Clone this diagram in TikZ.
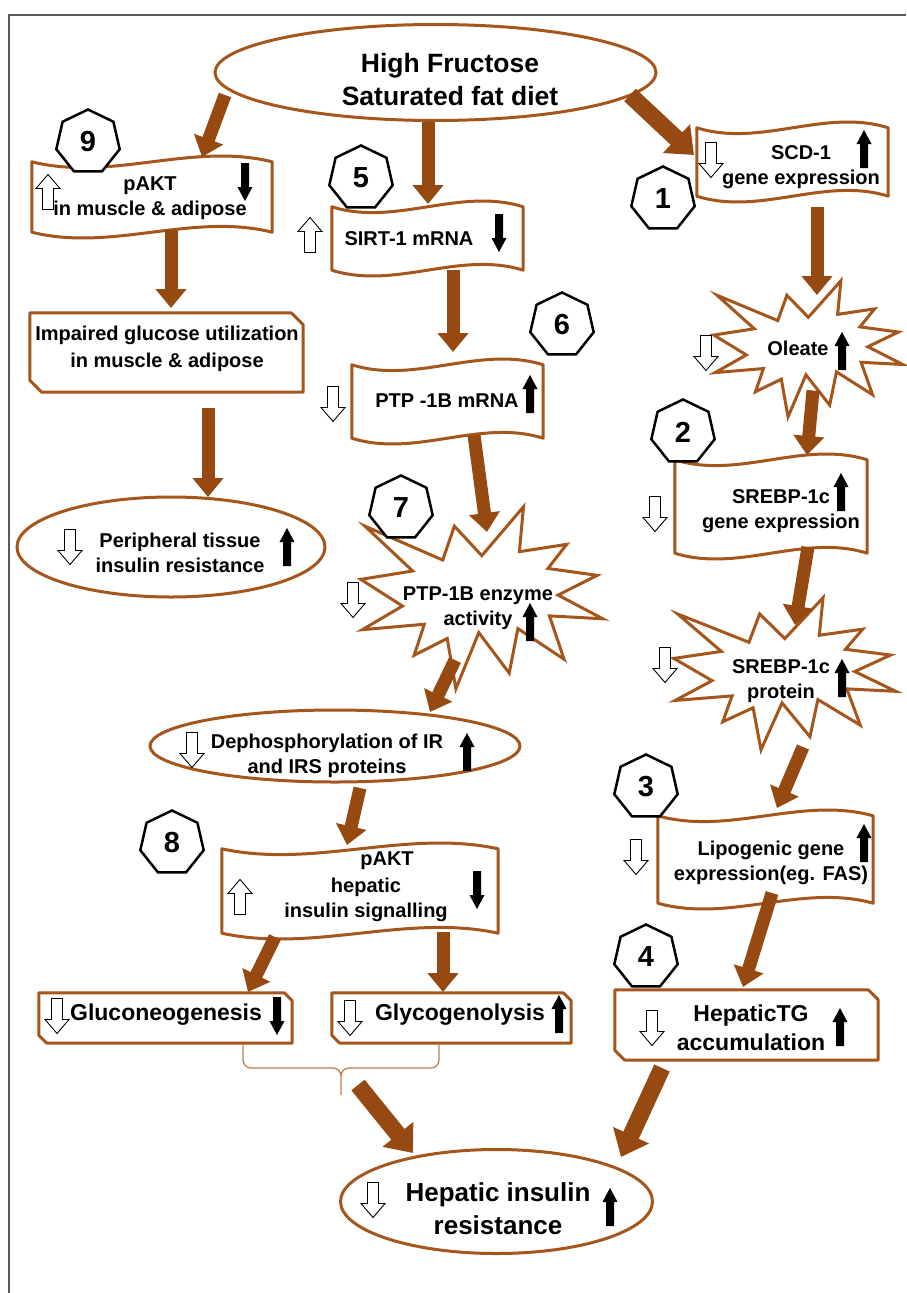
\documentclass[tikz,border=0pt]{standalone}
\usepackage{fontspec}
\setmainfont{Liberation Sans}
\usetikzlibrary{shapes.geometric,arrows.meta,calc}

\definecolor{arrowbrown}{RGB}{150,74,18}
\definecolor{linebrown}{RGB}{165,86,28}
\definecolor{bracebrown}{RGB}{195,125,75}
\definecolor{framegray}{RGB}{90,90,90}

\tikzset{
  boxline/.style={draw=linebrown, line width=3pt, fill=white, line join=round},
  starline/.style={draw=linebrown, line width=3pt, fill=white, line join=miter},
  holder/.style={rectangle, draw=none, inner sep=0pt},
  oval/.style={ellipse, draw=linebrown, line width=3pt, fill=white, inner sep=0pt},
  txt/.style={align=center, inner sep=0pt, font=\bfseries\fontsize{20}{25}\selectfont},
  bigtxt/.style={align=center, inner sep=0pt, font=\bfseries\fontsize{23}{29}\selectfont},
  hept/.style={regular polygon, regular polygon sides=7, draw=black, line width=2.5pt,
    fill=white, minimum size=65pt, inner sep=0pt, font=\bfseries\fontsize{29}{29}\selectfont},
  flow/.style={draw=arrowbrown, line width=13pt, -{Triangle[width=30pt,length=19pt]}},
  flowbig/.style={draw=arrowbrown, line width=17pt, -{Triangle[width=38pt,length=24pt]}},
  hollowup/.pic={\draw[black, line width=0.9pt, fill=white]
    (-5.5,17.5) -- (-5.5,-3.5) -- (-12,-3.5) -- (0,-17.5) -- (12,-3.5) -- (5.5,-3.5) -- (5.5,17.5) -- cycle;},
  hollowdown/.pic={\draw[black, line width=0.9pt, fill=white]
    (-5.5,-17.5) -- (-5.5,3.5) -- (-12,3.5) -- (0,17.5) -- (12,3.5) -- (5.5,3.5) -- (5.5,-17.5) -- cycle;},
  blackup/.pic={\fill[black]
    (-4,19) -- (-4,-5) -- (-7.5,-5) -- (0,-19) -- (7.5,-5) -- (4,-5) -- (4,19) -- cycle;},
  blackdown/.pic={\fill[black]
    (-4,-19) -- (-4,5) -- (-7.5,5) -- (0,19) -- (7.5,5) -- (4,5) -- (4,-19) -- cycle;}
}

% wavy banner outline around a holder node
\newcommand\drawwave[1]{%
  \draw[boxline] let \p1=(#1.north west), \p2=(#1.south east), \n1={(\x2-\x1)/3} in
    (\x1,\y1) .. controls (\x1+\n1*1pt,\y1-20pt) and (\x1+2*\n1*1pt,\y1+20pt) .. (\x2,\y1)
    -- (\x2,\y2) .. controls (\x1+2*\n1*1pt,\y2+20pt) and (\x1+\n1*1pt,\y2-20pt) .. (\x1,\y2)
    -- cycle;}

% box with the top-right and bottom-left corners cut off
\newcommand\drawplate[2]{%
  \draw[boxline] let \p1=(#1.north west), \p2=(#1.south east) in
    (\x1,\y1) -- (\x2-#2,\y1) -- (\x2,\y1-#2) -- (\x2,\y2) -- (\x1+#2,\y2) -- (\x1,\y2+#2) -- cycle;}

% explosion outline scaled to a holder node of width #2 and height #3
\newcommand\drawburst[3]{%
  \begin{scope}[shift={(#1.north west)},x=#2pt,y=-#3pt]
    \draw[starline] (0.5,0.2685) -- (0.6723,0) -- (0.6553,0.2465) -- (0.8509,0.2063)
      -- (0.7732,0.3387) -- (0.9767,0.3767) -- (0.8151,0.4850) -- (1,0.6153)
      -- (0.7795,0.5992) -- (0.8400,0.8377) -- (0.6491,0.6693) -- (0.6133,0.9137)
      -- (0.4876,0.6914) -- (0.3928,1) -- (0.3572,0.7235) -- (0.2205,0.8156)
      -- (0.2624,0.6452) -- (0.00625,0.6753) -- (0.1723,0.5451) -- (0,0.3988)
      -- (0.2142,0.3526) -- (0.0171,0.1063) -- (0.3385,0.2926) -- (0.3867,0.1063) -- cycle;
  \end{scope}}

\begin{document}
\begin{tikzpicture}[x=1pt,y=-1pt]
\useasboundingbox (0,0) rectangle (906,1293);
\fill[white] (0,0) rectangle (906,1293);

% frame
\draw[framegray, line width=2pt] (8.5,1293) -- (8.5,15) -- (906,15);

% ---- shapes ----
\node[oval, minimum width=441pt, minimum height=96pt] (diet) at (435.5,72.5) {};
\node[oval, minimum width=308pt, minimum height=100pt] (peri) at (171,547) {};
\node[oval, minimum width=370pt, minimum height=72pt] (deph) at (335,746) {};
\node[oval, minimum width=312pt, minimum height=104pt] (hir) at (496.5,1201.5) {};

\node[holder, minimum width=240pt, minimum height=70pt] (p9) at (152,197) {};
\node[holder, minimum width=191pt, minimum height=63pt] (sirt) at (427.5,238.5) {};
\node[holder, minimum width=191pt, minimum height=73pt] (ptpm) at (447.5,401.5) {};
\node[holder, minimum width=191pt, minimum height=68pt] (scd) at (792.5,162) {};
\node[holder, minimum width=192pt, minimum height=93pt] (srebg) at (771,506.5) {};
\node[holder, minimum width=215pt, minimum height=87pt] (lipo) at (765.5,859.5) {};
\node[holder, minimum width=276pt, minimum height=84pt] (p8) at (360,891) {};
\drawwave{p9}\drawwave{sirt}\drawwave{ptpm}\drawwave{scd}
\drawwave{srebg}\drawwave{lipo}\drawwave{p8}

\node[holder, minimum width=273pt, minimum height=79pt] (imp) at (166.5,352.5) {};
\node[holder, minimum width=263pt, minimum height=70pt] (htg) at (746.5,1025) {};
\node[holder, minimum width=253pt, minimum height=50pt] (glu) at (165.5,1018) {};
\node[holder, minimum width=239pt, minimum height=50pt] (gly) at (451.5,1018) {};
\drawplate{imp}{12pt}\drawplate{htg}{10pt}\drawplate{glu}{8pt}\drawplate{gly}{8pt}

\node[holder, minimum width=189pt, minimum height=136pt] (olea) at (808.5,349) {};
\node[holder, minimum width=242pt, minimum height=182pt] (ptpe) at (482,598) {};
\node[holder, minimum width=222pt, minimum height=152pt] (srebp) at (785,674) {};
\drawburst{olea}{189}{136}
\drawburst{ptpe}{242}{182}
\drawburst{srebp}{222}{152}

% brace joining the two hepatic outputs
\coordinate (brL) at (243,1045);
\coordinate (brR) at (439,1045);
\coordinate (brtip) at (341,1095);
\draw[bracebrown, line width=1.3pt]
  (brL) -- (243,1060) to[out=-90,in=180] (251,1068) -- (333,1068) to[out=0,in=90] (341,1076) -- (brtip)
  (341,1076) to[out=90,in=180] (349,1068) -- (431,1068) to[out=0,in=-90] (439,1060) -- (brR);

% ---- connectors ----
\draw[flow] ($(diet)+(-210.5,22.5)$) -- ($(p9)+(50,-40)$);
\draw[flow] ($(diet)+(-7.5,49.5)$) -- ($(sirt)+(0.5,-34.5)$);
\draw[flowbig] ($(diet)+(194.5,22.5)$) -- ($(scd)+(-98.5,-7)$);
\draw[flow] ($(p9)+(19,33)$) -- ($(imp)+(4.5,-44.5)$);
\draw[flow] ($(sirt)+(25.5,31.5)$) -- ($(ptpm)+(5.5,-49.5)$);
\draw[flow] ($(ptpm)+(26.5,33.5)$) -- ($(ptpe)+(5,-66)$);
\draw[flow] ($(imp)+(41.5,55.5)$) -- ($(peri)+(37,-50)$);
\draw[flow] ($(scd)+(24.5,45)$) -- ($(olea)+(8.5,-54)$);
\draw[flow] ($(olea)+(4.5,41.5)$) -- ($(srebg)+(36,-51.5)$);
\draw[flow] ($(srebg)+(37,40.5)$) -- ($(srebp)+(10,-49)$);
\draw[flow] ($(srebp)+(18,73)$) -- ($(lipo)+(11.5,-51.5)$);
\draw[flow] ($(lipo)+(6.5,33.5)$) -- ($(htg)+(-3.5,-38)$);
\draw[flow] ($(ptpe)+(-27,62)$) -- ($(deph)+(95,-34)$);
\draw[flow] ($(deph)+(25,42)$) -- ($(p8)+(-13,-46)$);
\draw[flow] ($(p8)+(-85,46)$) -- ($(glu)+(82.5,-26)$);
\draw[flow] ($(p8)+(83,41)$) -- ($(gly)+(-8.5,-26)$);
\draw[flowbig] ($(brtip)+(17,-10)$) -- ($(hir)+(-83.5,-48.5)$);
\draw[flowbig] ($(htg)+(-84.5,43)$) -- ($(hir)+(124.5,-44.5)$);

% ---- labels ----
\node[align=center, inner sep=0pt, font=\bfseries\fontsize{26.5}{33}\selectfont] (diet-t) at (450,80) {High Fructose\\Saturated fat diet};
\node[txt] (p9-t) at (150,198) {pAKT\\in muscle \& adipose};
\node[txt] (sirt-t) at (409,239) {SIRT-1 mRNA};
\node[txt] (ptpm-t) at (447,401) {PTP -1B mRNA};
\node[txt] (scd-t) at (801,167) {SCD-1\\gene expression};
\node[txt] (olea-t) at (798,348) {Oleate};
\node[txt] (srebg-t) at (781,511) {SREBP-1c\\gene expression};
\node[txt] (ptpe-t) at (478,608) {PTP-1B enzyme\\activity};
\node[txt] (srebp-t) at (781,681) {SREBP-1c\\protein};
\node[align=center, inner sep=0pt, font=\bfseries\fontsize{20}{27}\selectfont] (imp-t) at (167,349) {Impaired glucose utilization\\in muscle \& adipose};
\node[txt] (peri-t) at (180,553) {Peripheral tissue\\insulin resistance};
\node[txt] (deph-t) at (327,756) {Dephosphorylation of IR\\and IRS proteins};
\node[txt] (lipo-t) at (771,863) {Lipogenic gene\\expression(eg. FAS)};
\node[txt] (p8a-t) at (387,861) {pAKT};
\node[txt] (p8b-t) at (366,900) {hepatic\\insulin signalling};
\node[bigtxt] (htg-t) at (751,1028) {HepaticTG\\accumulation};
\node[bigtxt] (glu-t) at (166,1015) {Gluconeogenesis};
\node[bigtxt] (gly-t) at (460,1015) {Glycogenolysis};
\node[align=center, inner sep=0pt, font=\bfseries\fontsize{26}{33}\selectfont] (hir-t) at (498,1209) {Hepatic insulin\\resistance};

% ---- up / down markers ----
\pic at (48,192) {hollowup};       \pic at (245,182) {blackdown};
\pic at (310,235) {hollowup};      \pic at (499,233) {blackdown};
\pic at (333,404) {hollowdown};    \pic at (530,394) {blackup};
\pic at (711,160) {hollowdown};    \pic at (864,149) {blackup};
\pic at (706,353) {hollowdown};    \pic at (842,351) {blackup};
\pic at (655,514) {hollowdown};    \pic at (841,492) {blackup};
\pic at (353,600) {hollowdown};    \pic at (530,622) {blackup};
\pic at (665,665) {hollowdown};    \pic at (842,678) {blackup};
\pic at (636,857) {hollowdown};    \pic at (864,843) {blackup};
\pic at (652,1028) {hollowdown};   \pic at (840,1027) {blackup};
\pic at (192,750) {hollowdown};    \pic at (467,752) {blackup};
\pic at (70,547) {hollowdown};     \pic at (287,547) {blackup};
\pic at (240,897) {hollowup};      \pic at (477,890) {blackdown};
\pic at (57,1016) {hollowdown};    \pic at (277,1016) {blackdown};
\pic at (350,1018) {hollowdown};   \pic at (559,1014) {blackup};
\pic at (373,1200) {hollowdown};   \pic at (610,1207) {blackup};

% ---- step numbers ----
\node[hept] (h9) at (88,142) {9};
\node[hept] (h5) at (361,178) {5};
\node[hept] (h1) at (663,199) {1};
\node[hept] (h6) at (562,325) {6};
\node[hept] (h2) at (683,432) {2};
\node[hept] (h7) at (401,508) {7};
\node[hept] (h3) at (646,787) {3};
\node[hept] (h4) at (646,957) {4};
\node[hept] (h8) at (172,843) {8};
\end{tikzpicture}
\end{document}
